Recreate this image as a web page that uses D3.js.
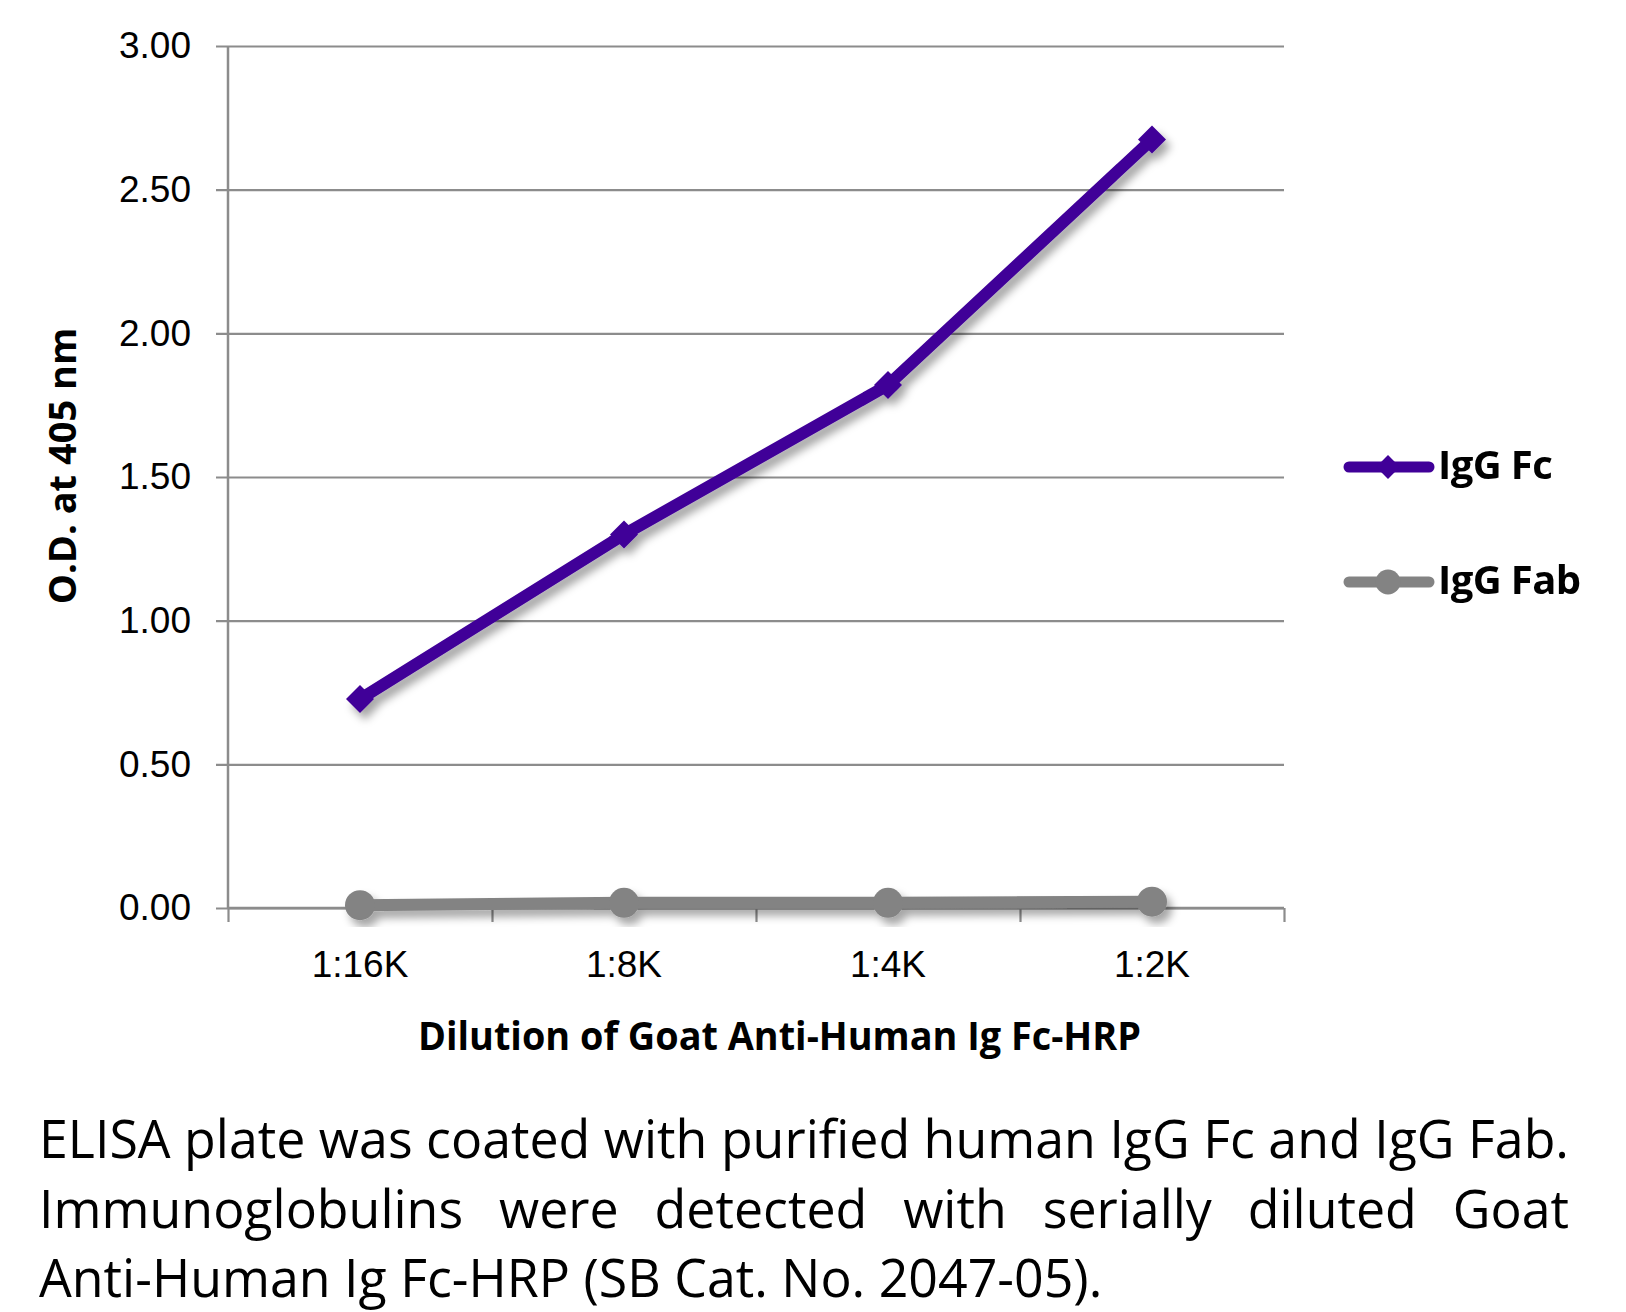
<!DOCTYPE html>
<html>
<head>
<meta charset="utf-8">
<script src="https://cdn.jsdelivr.net/npm/d3@7"></script>
<style>
  body { margin: 0; background: #fff; }
  svg { display: block; font-family: "Open Sans", sans-serif; }
</style>
</head>
<body>
<svg id="chart" width="1626" height="1312"></svg>
<script>
// data
const dilutions = ["1:16K", "1:8K", "1:4K", "1:2K"];
const igGFc = [0.727, 1.30, 1.82, 2.675];
const igGFab = [0.01, 0.018, 0.018, 0.022];
const yTicks = [0, 0.5, 1, 1.5, 2, 2.5, 3];
const seriesNames = ["IgG Fc", "IgG Fab"];
const captionLines = [
  "ELISA plate was coated with purified human IgG Fc and IgG Fab.",
  "Immunoglobulins were detected with serially diluted Goat",
  "Anti-Human Ig Fc-HRP (SB Cat. No. 2047-05)."
];

const purple = "#400098",
  grey = "#838383",
  gridColor = "#8c8c8c";

const plot = { left: 228, right: 1284, top: 46, bottom: 908 };

const svg = d3.select("#chart");

// drop shadow for the series lines
const defs = svg.append("defs");
defs
  .append("filter")
  .attr("id", "shadow")
  .attr("x", "-20%")
  .attr("y", "-20%")
  .attr("width", "140%")
  .attr("height", "140%")
  .append("feDropShadow")
  .attr("dx", 5)
  .attr("dy", 7)
  .attr("stdDeviation", 4)
  .attr("flood-color", "#000")
  .attr("flood-opacity", 0.35);

const x = d3
  .scaleBand()
  .domain(dilutions)
  .range([plot.left, plot.right]);

const xEdges = d3
  .scaleLinear()
  .domain([0, dilutions.length])
  .range([plot.left, plot.right]);

const y = d3
  .scaleLinear()
  .domain([0, 3])
  .range([plot.bottom, plot.top]);

// y axis + gridlines
const yAxis = svg
  .append("g")
  .attr("transform", `translate(${plot.right},0)`)
  .call(
    d3
      .axisLeft(y)
      .tickValues(yTicks)
      .tickFormat(d3.format(".2f"))
      .tickSize(plot.right - plot.left + 12)
      .tickPadding(25)
  );
yAxis.select(".domain").remove();
yAxis
  .selectAll("line")
  .attr("stroke", gridColor)
  .attr("stroke-width", 2.2);
yAxis
  .selectAll("text")
  .attr("fill", "#000")
  .style("font-size", "37px");

// vertical axis line
svg
  .append("line")
  .attr("x1", plot.left)
  .attr("x2", plot.left)
  .attr("y1", y(3))
  .attr("y2", y(0))
  .attr("stroke", gridColor)
  .attr("stroke-width", 2.5);

// x axis boundary ticks
const xTickAxis = svg
  .append("g")
  .attr("transform", `translate(0,${plot.bottom})`)
  .call(
    d3
      .axisBottom(xEdges)
      .tickValues(d3.range(dilutions.length + 1))
      .tickSize(14)
      .tickFormat("")
  );
xTickAxis
  .select(".domain")
  .attr("stroke", gridColor)
  .attr("stroke-width", 2.5)
  .attr("d", `M${plot.left},0H${plot.right}`);
xTickAxis
  .selectAll("line")
  .attr("stroke", gridColor)
  .attr("stroke-width", 2.2);

// category labels
const xAxis = svg
  .append("g")
  .attr("transform", `translate(0,${plot.bottom})`)
  .call(d3.axisBottom(x).tickSize(0));
xAxis.select(".domain").remove();
xAxis
  .selectAll("text")
  .attr("y", 69)
  .attr("dy", null)
  .attr("fill", "#000")
  .style("font-size", "37px");

// axis titles
svg
  .append("text")
  .attr("x", 418)
  .attr("y", 1050)
  .attr("textLength", 723)
  .attr("lengthAdjust", "spacingAndGlyphs")
  .style("font-size", "40px")
  .style("font-weight", "bold")
  .text("Dilution of Goat Anti-Human Ig Fc-HRP");

svg
  .append("text")
  .attr("transform", "translate(76,466) rotate(-90)")
  .attr("text-anchor", "middle")
  .style("font-size", "38px")
  .style("font-weight", "bold")
  .text("O.D. at 405 nm");

// series
const line = d3
  .line()
  .x((d, i) => x(dilutions[i]) + x.bandwidth() / 2)
  .y(d => y(d));

function drawSeries(values, color, marker) {
  const g = svg.append("g").attr("filter", "url(#shadow)");
  g.append("path")
    .datum(values)
    .attr("fill", "none")
    .attr("stroke", color)
    .attr("stroke-width", 12)
    .attr("stroke-linejoin", "round")
    .attr("d", line);
  values.forEach((v, i) => {
    const cx = x(dilutions[i]) + x.bandwidth() / 2;
    if (marker === "diamond") {
      g.append("path")
        .attr("d", d3.symbol().type(d3.symbolDiamond2).size(500)())
        .attr("transform", `translate(${cx},${y(v)})`)
        .attr("fill", color);
    } else {
      g.append("circle")
        .attr("cx", cx)
        .attr("cy", y(v))
        .attr("r", 15)
        .attr("fill", color);
    }
  });
}

drawSeries(igGFab, grey, "circle");
drawSeries(igGFc, purple, "diamond");

// legend
const legendRows = [
  { name: seriesNames[0], color: purple, marker: "diamond", y: 467 },
  { name: seriesNames[1], color: grey, marker: "circle", y: 582 }
];
legendRows.forEach(r => {
  const g = svg.append("g");
  g.append("line")
    .attr("x1", 1349)
    .attr("x2", 1429)
    .attr("y1", r.y)
    .attr("y2", r.y)
    .attr("stroke", r.color)
    .attr("stroke-width", 11)
    .attr("stroke-linecap", "round");
  if (r.marker === "diamond") {
    g.append("path")
      .attr("d", d3.symbol().type(d3.symbolDiamond2).size(360)())
      .attr("transform", `translate(1388,${r.y})`)
      .attr("fill", r.color);
  } else {
    g.append("circle")
      .attr("cx", 1388)
      .attr("cy", r.y)
      .attr("r", 12.5)
      .attr("fill", r.color);
  }
  g.append("text")
    .attr("x", 1438)
    .attr("y", r.y + 12)
    .style("font-size", "40px")
    .style("font-weight", "bold")
    .style("letter-spacing", "-0.6px")
    .text(r.name);
});

// caption, justified like the original
const capLeft = 39,
  capRight = 1569,
  capBaselines = [1158, 1228, 1297],
  capSize = 53;

const measure = svg
  .append("text")
  .style("font-size", capSize + "px")
  .attr("visibility", "hidden");
function widthOf(s) {
  measure.text(s);
  return measure.node().getComputedTextLength();
}
const spaceW = widthOf("a b") - widthOf("ab");
const squeeze = (capRight - capLeft) / widthOf(captionLines[0]);

captionLines.forEach((ln, li) => {
  const words = ln.split(" ");
  const widths = words.map(w => widthOf(w) * squeeze);
  const total = d3.sum(widths);
  const last = li === captionLines.length - 1;
  const gap = last
    ? spaceW * squeeze
    : (capRight - capLeft - total) / (words.length - 1);
  let cx = capLeft;
  words.forEach((w, i) => {
    svg
      .append("text")
      .attr("x", cx)
      .attr("y", capBaselines[li])
      .attr("textLength", widths[i])
      .attr("lengthAdjust", "spacingAndGlyphs")
      .style("font-size", capSize + "px")
      .text(w);
    cx += widths[i] + gap;
  });
});
measure.remove();
</script>
</body>
</html>
